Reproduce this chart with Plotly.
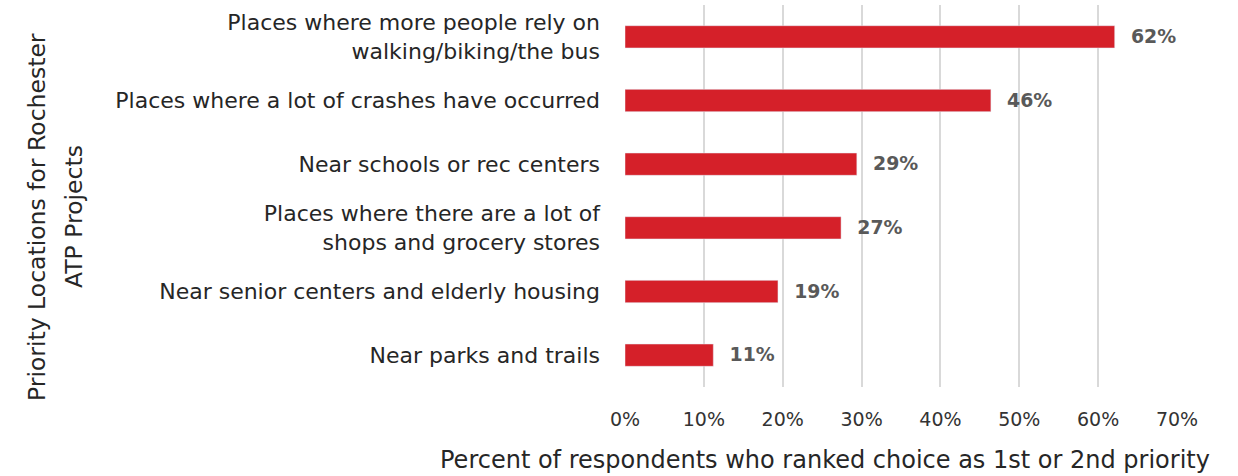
import plotly.graph_objects as go

categories = [
    "Places where more people rely on<br>walking/biking/the bus",
    "Places where a lot of crashes have occurred",
    "Near schools or rec centers",
    "Places where there are a lot of<br>shops and grocery stores",
    "Near senior centers and elderly housing",
    "Near parks and trails",
]
values = [62.1, 46.4, 29.4, 27.4, 19.4, 11.2]
labels = ["62%", "46%", "29%", "27%", "19%", "11%"]
tick_vals = [0, 10, 20, 30, 40, 50, 60, 70]
tick_text = ["0%", "10%", "20%", "30%", "40%", "50%", "60%", "70%"]

FONT = "DejaVu Sans"
W, H = 1238, 476
L, R, T, B = 625, 61, 5, 89
PW, PH = W - L - R, H - T - B

def px_x(x):
    return (x - L) / PW

def px_y(y):
    return 1 - (y - T) / PH

fig = go.Figure(go.Bar(
    y=categories, x=values, orientation="h",
    marker=dict(color="#D52029"),
    width=0.35,
    text=labels, textposition="outside",
    texttemplate="  %{text}",
    textfont=dict(family=FONT, size=19.5, color="#595959", weight="bold"),
    cliponaxis=False,
))

fig.update_layout(
    width=W, height=H,
    margin=dict(l=L, r=R, t=T, b=B),
    plot_bgcolor="white", paper_bgcolor="white",
    showlegend=False,
    font=dict(family=FONT, color="#262626"),
    xaxis=dict(
        range=[0, 70], tickvals=tick_vals, ticktext=tick_text,
        showgrid=True, gridcolor="#D9D9D9", gridwidth=1.5,
        zeroline=False, showline=False,
        tickfont=dict(family=FONT, size=19, color="#333333"),
        ticklabelstandoff=19,
    ),
    yaxis=dict(
        categoryorder="array", categoryarray=categories[::-1],
        showgrid=False, zeroline=False, showline=False,
        tickfont=dict(family=FONT, size=22, color="#262626"),
        ticklabelstandoff=24,
    ),
    annotations=[
        dict(text="Percent of respondents who ranked choice as 1st or 2nd priority",
             xref="paper", yref="paper", x=px_x(825), y=px_y(460),
             showarrow=False, xanchor="center", yanchor="middle",
             font=dict(family=FONT, size=24, color="#262626")),
        dict(text="Priority Locations for Rochester",
             xref="paper", yref="paper", x=px_x(37), y=px_y(217),
             showarrow=False, xanchor="center", yanchor="middle", textangle=-90,
             font=dict(family=FONT, size=23.5, color="#262626")),
        dict(text="ATP Projects",
             xref="paper", yref="paper", x=px_x(74), y=px_y(217),
             showarrow=False, xanchor="center", yanchor="middle", textangle=-90,
             font=dict(family=FONT, size=23.5, color="#262626")),
    ],
)

fig.write_html("out.html", config={"displayModeBar": False},
               post_script="document.body.style.margin='0';document.body.style.padding='0';")
